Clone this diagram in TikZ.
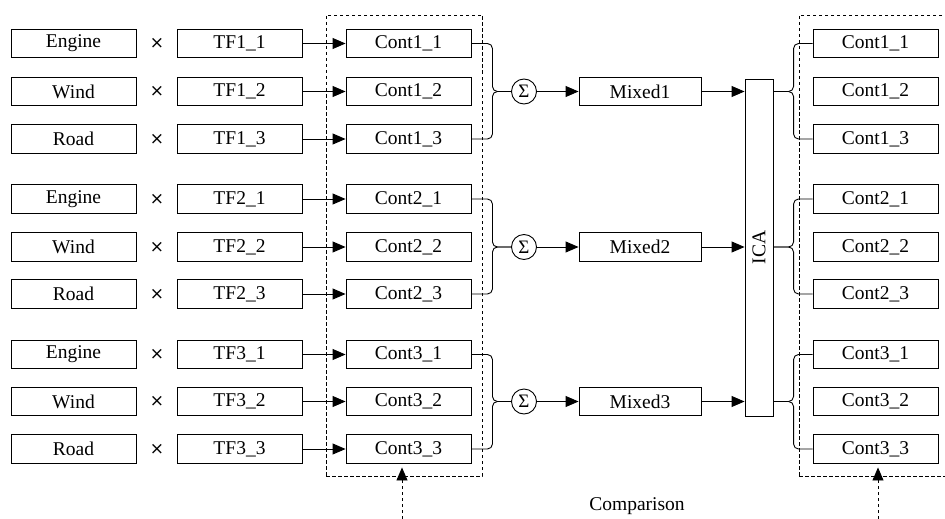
\documentclass[tikz,border=0pt]{standalone}
\usepackage{fontspec}
\setmainfont{Liberation Serif}
\newfontfamily\symfont{DejaVu Sans}
\usetikzlibrary{arrows.meta,calc}
\begin{document}
\begin{tikzpicture}[x=1pt,y=-1pt,
  lbl/.style={font=\fontsize{19.5}{22}\selectfont},
  box/.style={draw, line width=0.9pt, minimum width=125pt, minimum height=28.5pt, inner sep=0pt, lbl},
  timesmark/.style={inner sep=0pt, font=\symfont\fontsize{17}{19}\selectfont},
  sig/.style={draw, circle, line width=0.9pt, minimum size=25pt, inner sep=0pt, font=\fontsize{19}{21}\selectfont},
  arr/.style={line width=0.9pt, -{Triangle[length=13pt,width=11pt]}},
  brace/.style={line width=0.9pt, rounded corners=5pt},
  dbox/.style={draw, line width=0.9pt, dash pattern=on 3.5pt off 2.5pt, inner sep=0pt},
  darr/.style={line width=0.9pt, dash pattern=on 3.5pt off 2.5pt, -{Triangle[length=13pt,width=11pt]}}
]
\useasboundingbox (0,0) rectangle (945,519);
% dashed groups
\node[dbox, minimum width=156pt, minimum height=461pt] (L) at (404,245.5) {};
\node[dbox, minimum width=150pt, minimum height=461pt] (R) at (874,245.5) {};
% ICA
\node[draw, line width=0.9pt, minimum width=28pt, minimum height=337pt, inner sep=0pt] (ica) at (759,247.5) {};
\node[lbl, rotate=90] (icalabel) at (ica.center) {ICA};
\foreach \g/\ya/\yb/\yc in {1/43.5/91.5/139, 2/199/247/294, 3/354.5/401.5/449} {
  \foreach \r/\y/\src in {1/\ya/Engine, 2/\yb/Wind, 3/\yc/Road} {
    \node[box] (s\g\r) at (73.5,\y) {\src};
    \node[timesmark] (x\g\r) at (157,\y) {×};
    \node[box] (t\g\r) at (239.5,\y) {TF\g\_\r};
    \node[box] (c\g\r) at (408.5,\y) {Cont\g\_\r};
    \node[box] (r\g\r) at (875.5,\y) {Cont\g\_\r};
    \draw[arr] (t\g\r) -- (c\g\r);
  }
  \node[sig] (sg\g) at (524,\yb) {Σ};
  \node[box, minimum width=122pt] (m\g) at (640,\yb) {Mixed\g};
  \draw[brace] (c\g1.east) -- ++(21pt,0) |- (sg\g.west);
  \draw[brace] (c\g3.east) -- ++(21pt,0) |- (sg\g.west);
  \draw[arr] (sg\g) -- (m\g);
  \draw[arr] (m\g) -- (ica.west |- m\g.east);
  \draw[brace] (r\g1.west) -- ++(-19pt,0) |- (ica.east |- m\g.east);
  \draw[brace] (r\g3.west) -- ++(-19pt,0) |- (ica.east |- m\g.east);
}
% comparison
\coordinate (b1) at (402,519);
\coordinate (b2) at (878,519);
\draw[darr] (b1) -- ([yshift=9pt]L.south -| b1);
\draw[darr] (b2) -- ([yshift=9pt]R.south -| b2);
\node[lbl] (cmp) at (637,506) {Comparison};
\end{tikzpicture}
\end{document}
